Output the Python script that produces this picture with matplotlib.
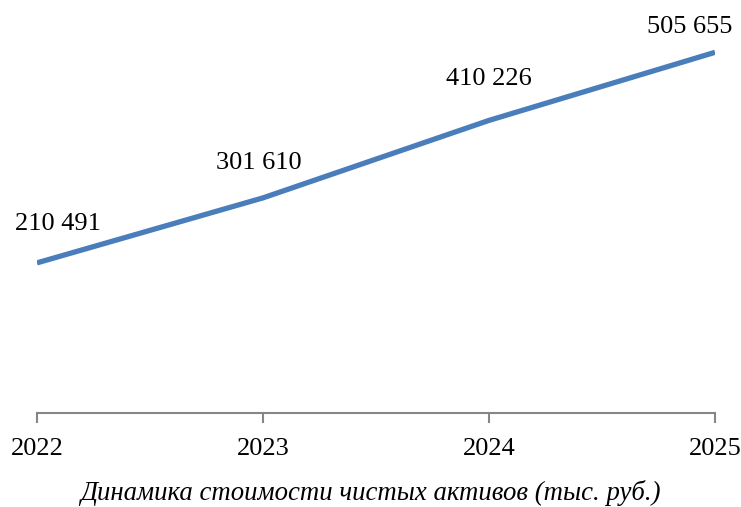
import matplotlib.pyplot as plt

plt.rcParams['font.family'] = ['Liberation Serif', 'DejaVu Serif']

# данные
years = ['2022', '2023', '2024', '2025']
values = [210491, 301610, 410226, 505655]
labels = ['210 491', '301 610', '410 226', '505 655']
caption = 'Динамика стоимости чистых активов (тыс. руб.)'

# смещения подписей (в пунктах)
label_dx = [15, -3, 0, -18]
label_dy = [28, 25, 30, 18]

fig = plt.figure(figsize=(7.41, 5.07), dpi=100)
ax = fig.add_axes([37 / 741, 1 - 413 / 507, (715 - 37) / 741, (413 - 10) / 507])

x = list(range(len(years)))
ax.plot(x, values, color='#4A7EBB', linewidth=3.8, solid_capstyle='butt')

for i in range(len(x)):
    ax.annotate(labels[i], xy=(x[i], values[i]), xytext=(label_dx[i], label_dy[i]),
                textcoords='offset points', ha='center', va='center', fontsize=19,
                annotation_clip=False)

ax.set_xlim(0, 3)
ax.set_ylim(0, 565000)
ax.set_xticks(x)
ax.set_xticklabels(years, fontsize=19)
ax.set_yticks([])

for s in ['top', 'right', 'left']:
    ax.spines[s].set_visible(False)
ax.spines['bottom'].set_color('#868686')
ax.spines['bottom'].set_linewidth(1.5)
ax.tick_params(axis='x', direction='out', length=7, width=1.5, color='#868686', pad=11)

fig.text(0.5, 1 - 493 / 507, caption, ha='center', va='center', fontsize=19.3, style='italic')

plt.savefig('out.png', dpi=100)
